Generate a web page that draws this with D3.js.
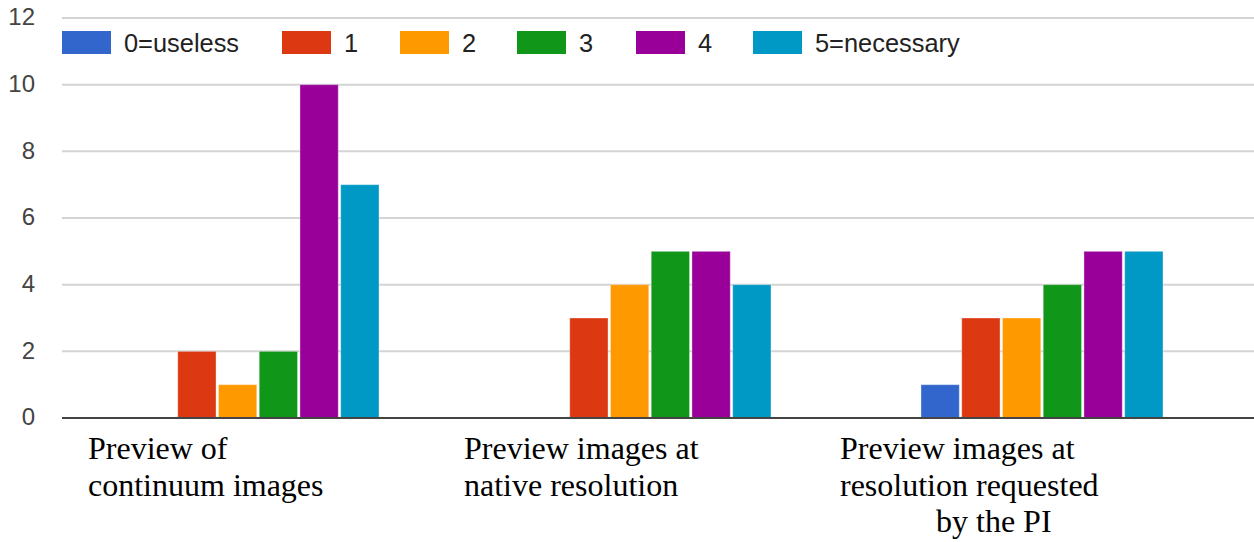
<!DOCTYPE html>
<html><head><meta charset="utf-8">
<script src="https://cdn.jsdelivr.net/npm/d3@7"></script>
<style>
html,body{margin:0;padding:0;background:#fff;}
svg{display:block;}
</style></head>
<body>
<svg id="chart" width="1254" height="542"></svg>
<script>
// ---- data ----
const categories = ["Preview of continuum images", "Preview images at native resolution", "Preview images at resolution requested by the PI"];
const categoryLines = [
  ["Preview of", "continuum images"],
  ["Preview images at", "native resolution"],
  ["Preview images at", "resolution requested", "by the PI"]
];
const seriesNames = ["0=useless", "1", "2", "3", "4", "5=necessary"];
const s0 = [0, 0, 1];
const s1 = [2, 3, 3];
const s2 = [1, 4, 3];
const s3 = [2, 5, 4];
const s4 = [10, 5, 5];
const s5 = [7, 4, 5];
const seriesValues = [s0, s1, s2, s3, s4, s5];
const yTicks = [0, 2, 4, 6, 8, 10, 12];
const colors = ["#3366cc", "#dc3912", "#ff9900", "#109618", "#990099", "#0099c6"];

// ---- layout ----
const W = 1254, H = 542;
const plotLeft = 62, plotRight = 1238, plotTop = 18, plotBottom = 418;
const svg = d3.select("#chart");

const y = d3.scaleLinear().domain([0, 12]).range([plotBottom, plotTop]);
const x0 = d3.scaleBand().domain(categories).range([plotLeft, plotRight]).padding(0);
const x1 = d3.scaleBand().domain(seriesNames).range([75, 317]).paddingInner(0.06).paddingOuter(0);

// gridlines
svg.append("g").selectAll("line").data(yTicks.filter(t => t !== 0)).join("line")
  .attr("x1", plotLeft).attr("x2", W)
  .attr("y1", d => y(d)).attr("y2", d => y(d))
  .attr("stroke", "#d4d4d4").attr("stroke-width", 2);

// y tick labels
svg.append("g").selectAll("text").data(yTicks).join("text")
  .attr("x", 35).attr("y", d => y(d))
  .attr("dy", "0.3em")
  .attr("text-anchor", "end")
  .attr("font-family", "Liberation Sans, Arial, sans-serif")
  .attr("font-size", 24)
  .attr("fill", "#444")
  .text(d => d);

// bars
const groups = svg.append("g").selectAll("g").data(categories).join("g")
  .attr("transform", d => `translate(${x0(d)},0)`);
groups.selectAll("rect").data((c, ci) => seriesNames.map((s, si) => ({s, si, v: seriesValues[si][ci]})))
  .join("rect")
  .attr("x", d => x1(d.s))
  .attr("width", x1.bandwidth())
  .attr("y", d => y(d.v))
  .attr("height", d => y(0) - y(d.v))
  .attr("fill", d => colors[d.si])
  .attr("stroke", "rgba(255,255,255,0.35)")
  .attr("stroke-width", 1);

// zero axis
svg.append("line").attr("x1", plotLeft).attr("x2", W).attr("y1", y(0)).attr("y2", y(0))
  .attr("stroke", "#444").attr("stroke-width", 2);

// category labels
const labelX = [88, 464, 840];
const lineIndent = [[0, 0], [0, 0], [0, 0, 96]];
const lineY = [459, 496, 532];
categoryLines.forEach((lines, ci) => {
  const t = svg.append("text")
    .attr("font-family", "Liberation Serif, 'Times New Roman', serif")
    .attr("font-size", 32)
    .attr("fill", "#000");
  lines.forEach((ln, li) => {
    t.append("tspan").attr("x", labelX[ci] + lineIndent[ci][li]).attr("y", lineY[li]).text(ln);
  });
});

// legend
const legendX = [62, 282, 400, 517, 636, 753];
const lg = svg.append("g").selectAll("g").data(seriesNames).join("g")
  .attr("transform", (d, i) => `translate(${legendX[i]},31)`);
lg.append("rect").attr("width", 49).attr("height", 23).attr("fill", (d, i) => colors[i]);
lg.append("text").attr("x", 62).attr("y", 21)
  .attr("font-family", "Liberation Sans, Arial, sans-serif")
  .attr("font-size", 25.4)
  .attr("fill", "#222")
  .text(d => d);
</script>
</body></html>
